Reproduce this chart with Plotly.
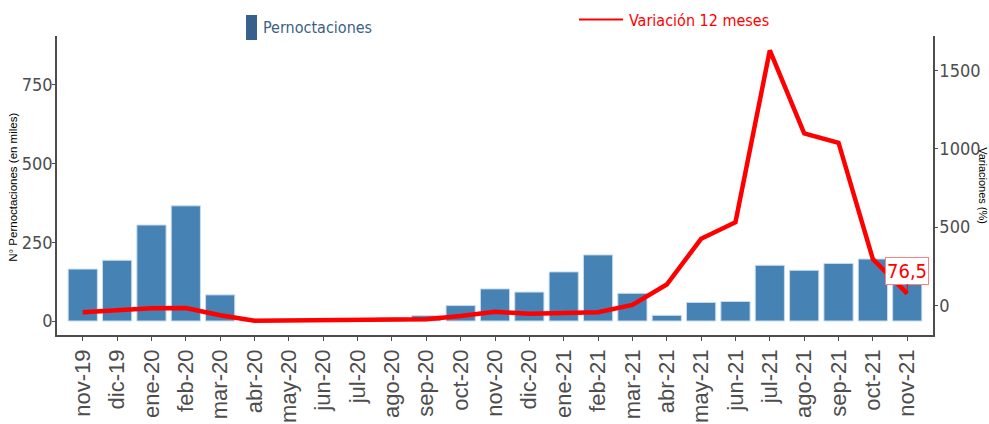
import plotly.graph_objects as go

meses = ["nov-19", "dic-19", "ene-20", "feb-20", "mar-20", "abr-20", "may-20", "jun-20",
         "jul-20", "ago-20", "sep-20", "oct-20", "nov-20", "dic-20", "ene-21", "feb-21",
         "mar-21", "abr-21", "may-21", "jun-21", "jul-21", "ago-21", "sep-21", "oct-21", "nov-21"]
pernoctaciones = [165, 193, 305, 366, 83, 2, 5, 4, 6, 10, 17, 49, 102, 92, 156, 210,
                  88, 18, 59, 62, 177, 161, 183, 197, 180]
variacion = [-43, -30, -17, -16, -62, -97, -96, -97, -96, -94, -88, -67, -40, -52, -50, -43,
             4, 134, 426, 532, 1628, 1099, 1039, 296, 76.5]
left_ticks = [0, 250, 500, 750]
right_ticks = [0, 500, 1000, 1500]
ultimo_label = "76,5"

NARROW = "DejaVu Sans Condensed, Liberation Sans Narrow, Liberation Sans, Arial"
REG = "Liberation Sans, Arial"

fig = go.Figure()
fig.add_trace(go.Bar(
    x=meses, y=pernoctaciones, name="Pernoctaciones",
    marker=dict(color="#4682B4", line=dict(color="#c9dcee", width=1)),
    width=0.85, yaxis="y", showlegend=False))
fig.add_trace(go.Scatter(
    x=meses, y=variacion, name="Variación 12 meses", mode="lines",
    line=dict(color="#ff0000", width=4.5), yaxis="y2", showlegend=False))

fig.update_layout(
    width=989, height=424,
    margin=dict(l=57, r=56, t=36, b=89),
    paper_bgcolor="white", plot_bgcolor="white",
    xaxis=dict(
        type="category", range=[-0.75, 24.75], automargin=False,
        showline=True, linecolor="#4d4d4d", linewidth=1.5,
        ticks="outside", ticklen=4, tickcolor="#4d4d4d",
        tickangle=-90, tickfont=dict(family=REG, size=22, color="#4d4d4d"),
        showgrid=False, zeroline=False),
    yaxis=dict(
        range=[-44.5, 905.7], tickvals=left_ticks, automargin=False,
        showline=True, linecolor="#4d4d4d", linewidth=1.5,
        ticks="outside", ticklen=3, tickcolor="#4d4d4d", ticklabelstandoff=-4,
        tickfont=dict(family=NARROW, size=18, color="#4d4d4d"),
        showgrid=False, zeroline=False),
    yaxis2=dict(
        range=[-188, 1720], tickvals=right_ticks, overlaying="y", side="right", automargin=False,
        showline=True, linecolor="#4d4d4d", linewidth=1.5,
        ticks="outside", ticklen=3, tickcolor="#4d4d4d", ticklabelstandoff=-2,
        tickfont=dict(family=NARROW, size=18, color="#4d4d4d"),
        showgrid=False, zeroline=False),
    showlegend=False,
)

# axis titles
fig.add_annotation(xref="paper", yref="paper", x=-0.0505, y=0.495, xanchor="center", yanchor="middle",
                   text="N° Pernoctaciones (en miles)", textangle=-90, showarrow=False,
                   font=dict(family=REG, size=11.5, color="black"))
fig.add_annotation(xref="paper", yref="paper", x=1.0575, y=0.5, xanchor="center", yanchor="middle",
                   text="Variaciones (%)", textangle=90, showarrow=False,
                   font=dict(family=REG, size=11, color="black"))

# legends
fig.add_shape(type="rect", xref="paper", yref="paper", x0=0.2158, x1=0.2283, y0=0.9866, y1=1.0702,
              fillcolor="#36618c", line=dict(width=0))
fig.add_annotation(xref="paper", yref="paper", x=0.2329, y=1.0268, xanchor="left", yanchor="middle",
                   text="Pernoctaciones", showarrow=False,
                   font=dict(family=NARROW, size=16, color="#3d5f86"))
fig.add_shape(type="line", xref="paper", yref="paper", x0=0.5959, x1=0.6461, y0=1.0552, y1=1.0552,
              line=dict(color="#ff0000", width=2))
fig.add_annotation(xref="paper", yref="paper", x=0.6507, y=1.0535, xanchor="left", yanchor="middle",
                   text="Variación 12 meses", showarrow=False,
                   font=dict(family=NARROW, size=16, color="#ff0000"))

# last value label
fig.add_annotation(x=meses[-1], y=variacion[-1], xref="x", yref="y2",
                   text=ultimo_label, showarrow=True, arrowhead=0, arrowwidth=1, arrowcolor="#ff0000",
                   ax=0, ay=-23, bgcolor="white", bordercolor="#ff8080", borderwidth=1, borderpad=1,
                   font=dict(family=NARROW, size=20, color="#ff0000"))

fig.write_html("out.html", config={"displayModeBar": False},
               post_script="document.body.style.margin='0';document.body.style.overflow='hidden';")
